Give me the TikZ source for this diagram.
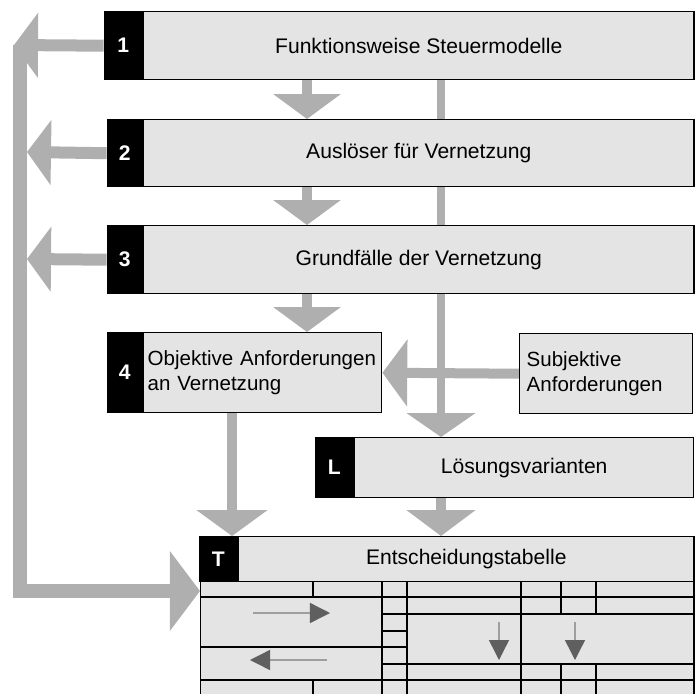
\documentclass[tikz,border=0pt]{standalone}
\usepackage{fontspec}
\setmainfont{Liberation Sans}
\usepackage{xcolor}
\usepackage{tikz}
\usetikzlibrary{arrows.meta, positioning, calc, backgrounds}
\definecolor{boxgray}{RGB}{228, 228, 228}
\definecolor{flowgray}{RGB}{175, 175, 175}
\definecolor{markgray}{RGB}{95, 95, 95}
\tikzset{
    stage/.style={draw, line width=1pt, fill=boxgray, inner sep=0pt, font=\fontsize{15}{17.5}\selectfont},
    twoline/.style={stage, align=left, font=\fontsize{14.6}{17.5}\selectfont},
    numtab/.style={draw, line width=1pt, fill=black, text=white, inner sep=0pt, font=\fontsize{15}{17.5}\selectfont\bfseries},
    flow/.style={flowgray, line width=2.5mm, -{Triangle[width=1.65cm, length=0.62cm]}},
    feedback/.style={flowgray, line width=3mm, -{Triangle[width=1.6cm, length=0.6cm]}},
    spine/.style={flowgray, line width=3.5mm, -{Triangle[width=1.95cm, length=0.75cm]}},
    tabline/.style={line width=0.9pt},
    pointer/.style={black!38, line width=1pt, -{Triangle[width=0.5cm, length=0.5cm, color=markgray]}}
}

\begin{document}
\begin{tikzpicture}[x=0.025cm, y=-0.025cm]
    \useasboundingbox (0,0) rectangle (699,693);

    \node[stage, anchor=north west, minimum width=13.75cm, minimum height=1.7cm] (s1) at (143,11) {Funktionsweise Steuermodelle};
    \node[numtab, anchor=north east, minimum width=0.95cm, minimum height=1.7cm] (n1) at (s1.north west) {1};
    \node[stage, anchor=north west, minimum width=13.75cm, minimum height=1.675cm] (s2) at (143,119) {Auslöser für Vernetzung};
    \node[numtab, anchor=north east, minimum width=0.875cm, minimum height=1.675cm] (n2) at (s2.north west) {2};
    \node[stage, anchor=north west, minimum width=13.75cm, minimum height=1.7cm] (s3) at (143,225) {Grundfälle der Vernetzung};
    \node[numtab, anchor=north east, minimum width=0.875cm, minimum height=1.7cm] (n3) at (s3.north west) {3};
    \node[twoline, anchor=north west, minimum height=2cm, text width=5.75cm, inner xsep=0.1cm] (s4) at (143,332) {Objektive Anforderungen\\an Vernetzung};
    \node[numtab, anchor=north east, minimum width=0.875cm, minimum height=2cm] (n4) at (s4.north west) {4};
    \node[twoline, anchor=north west, minimum height=2cm, text width=3.975cm, inner xsep=0.175cm] (sub) at (519,333) {Subjektive\\Anforderungen};
    \node[stage, anchor=north west, minimum width=8.475cm, minimum height=1.5cm] (ls) at (354,437) {Lösungsvarianten};
    \node[numtab, anchor=north east, minimum width=0.95cm, minimum height=1.5cm] (ln) at (ls.north west) {L};
    \node[stage, anchor=north west, minimum width=11.375cm, minimum height=1.125cm] (ts) at (238,536) {Entscheidungstabelle};
    \node[numtab, anchor=north east, minimum width=0.95cm, minimum height=1.125cm] (tn) at (ts.north west) {T};
    \node[stage, anchor=north west, minimum width=12.325cm, minimum height=3.5cm] (tbl) at (200,581) {};

    \draw[tabline] (200,597) -- (693,597) (200,680) -- (693,680);
    \draw[tabline] (382,614) -- (693,614) (382,664) -- (693,664);
    \draw[tabline] (382,631) -- (407,631) (200,647) -- (407,647);
    \foreach \x in {382,407,521}
        \draw[tabline] (\x,581) -- (\x,700);
    \foreach \x in {561,596}
        \draw[tabline] (\x,581) -- (\x,614) (\x,664) -- (\x,700);
    \draw[tabline] (313,581) -- (313,597) (313,680) -- (313,700);
    \draw[pointer] (253,613) -- (330,613);
    \draw[pointer] (327,660) -- (250,660);
    \draw[pointer] (499,622) -- (499,660);
    \draw[pointer] (575,622) -- (575,660);

    \coordinate (mid) at (307,0);
    \coordinate (side) at (441,0);
    \coordinate (obj) at (232,0);
    \coordinate (railtop) at (20,45);
    \coordinate (railbend) at (20,591);
    \coordinate (tin) at ($(tbl.north west)+(0,10)$);
    \coordinate (rail1) at (14,45);
    \coordinate (rail2) at (27,152);
    \coordinate (rail3) at (27,259);

    \begin{scope}[on background layer]
        \draw[spine] (railtop) -- (railbend) -- (tin);
        \draw[feedback] (n1.west) -- (rail1);
        \draw[feedback] (n2.west) -- (rail2);
        \draw[feedback] (n3.west) -- (rail3);
        \draw[flow] (s1.south -| mid) -- (s2.north -| mid);
        \draw[flow] (s2.south -| mid) -- (s3.north -| mid);
        \draw[flow] (s3.south -| mid) -- (s4.north -| mid);
        \draw[flow, line width=2mm, -{Triangle[width=1.7cm, length=0.6cm]}] (s1.south -| side) -- (ls.north -| side);
        \draw[flow] (sub.west) -- (s4.east);
        \draw[flow, -{Triangle[width=1.75cm, length=0.65cm]}] (s4.south -| obj) -- (tn.north -| obj);
        \draw[flow, -{Triangle[width=1.7cm, length=0.65cm]}] (ls.south -| side) -- (ts.north -| side);
    \end{scope}
\end{tikzpicture}
\end{document}
